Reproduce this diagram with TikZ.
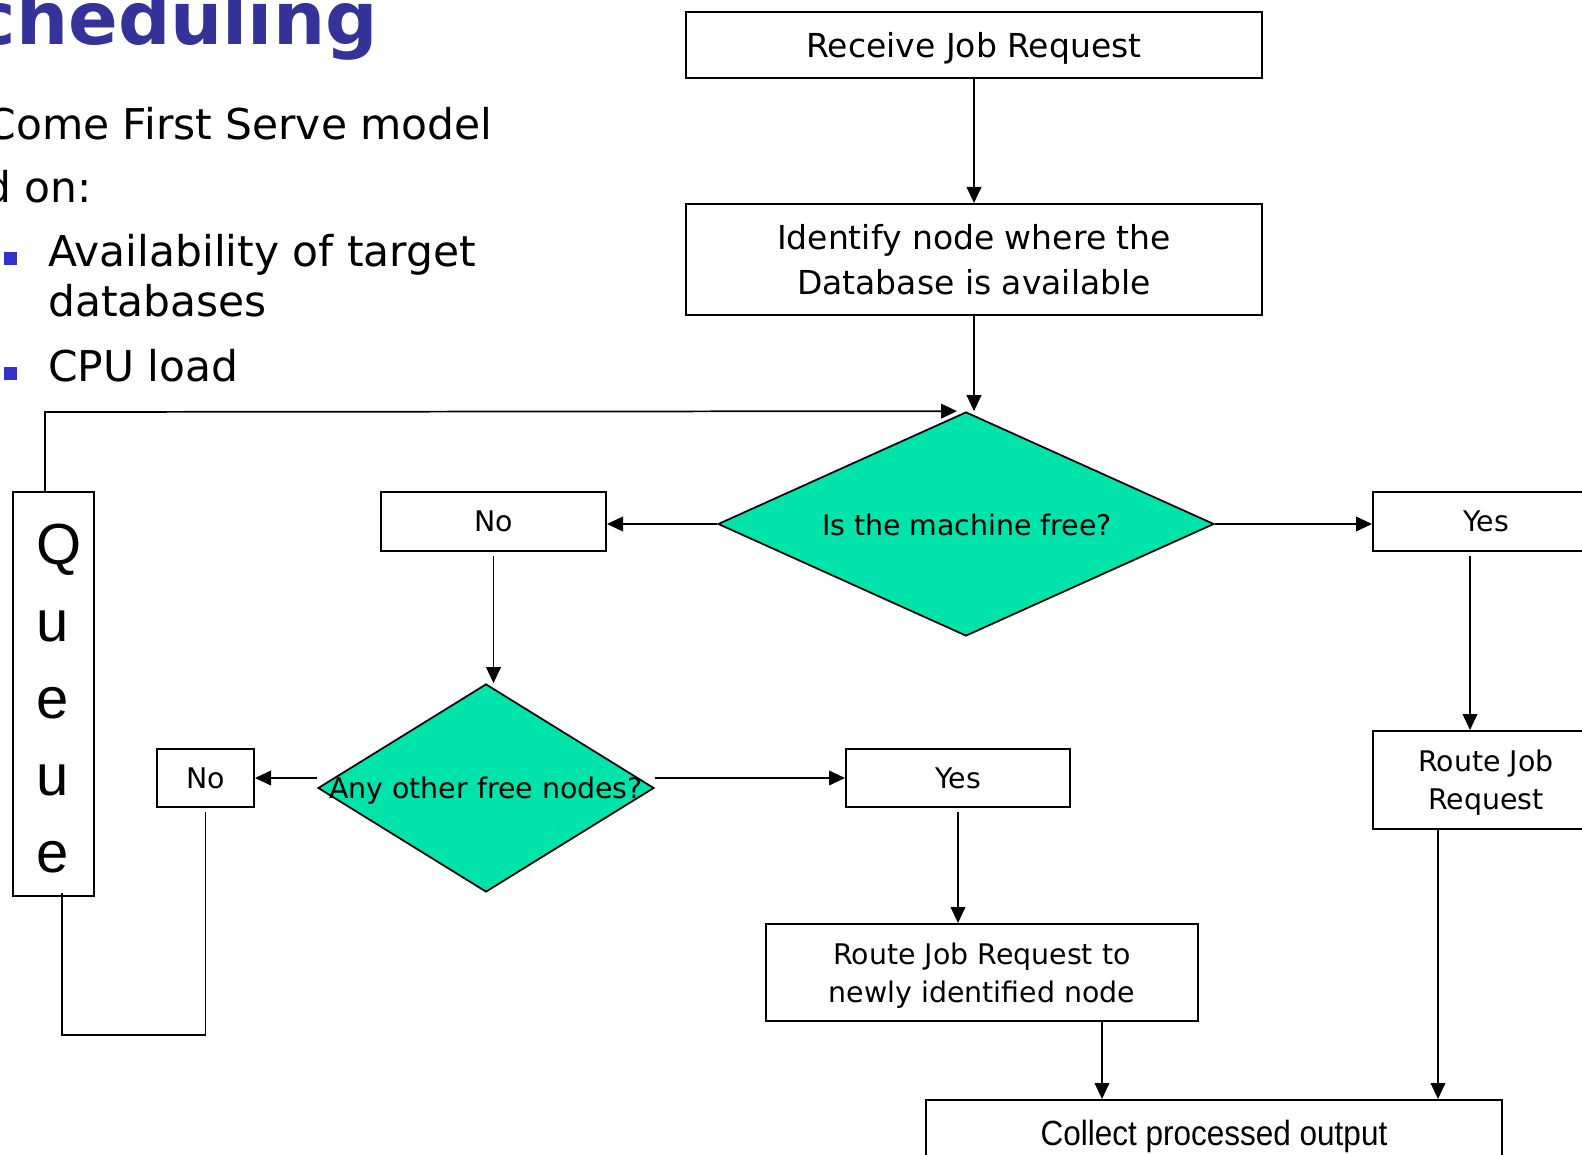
\documentclass[tikz,border=0pt]{standalone}
\usepackage{fontspec}
\setmainfont{DejaVu Sans}
\newfontfamily\queuefont{Liberation Sans}
\newfontfamily\narrowfont{Liberation Sans}[FakeStretch=0.9]
\usetikzlibrary{arrows.meta,shapes.geometric}
\definecolor{decgreen}{RGB}{0,227,170}
\definecolor{titleblue}{RGB}{51,51,153}
\definecolor{bulletblue}{RGB}{51,51,204}

\begin{document}
\begin{tikzpicture}[x=0.75pt,y=-0.75pt,
  box/.style={draw, line width=1.5pt, inner sep=0pt, align=center, text depth=0pt,
    font=\fontsize{21.3pt}{28.5pt}\selectfont},
  bigbox/.style={box, font=\fontsize{24.75pt}{33.75pt}\selectfont},
  decision/.style={diamond, draw, fill=decgreen, line width=1.3pt, inner sep=0pt},
  dectext/.style={font=\fontsize{21.3pt}{26pt}\selectfont, inner sep=0pt, text depth=0pt},
  arr/.style={line width=1.3pt, -{Triangle[length=12pt,width=11pt]}},
  link/.style={line width=1.3pt},
  body/.style={font=\fontsize{31.8pt}{38pt}\selectfont, inner sep=0pt},
]
\useasboundingbox (0,0) rectangle (1582,1155);
\clip (0,0) rectangle (1582,1155);

% slide heading and bullet text
\node[anchor=base east, inner sep=0pt, text=titleblue,
  font=\bfseries\fontsize{55pt}{60pt}\selectfont] (title) at (378,45) {cheduling};
\node[body, anchor=base east] (line1) at (493,140) {Come First Serve model};
\node[body, anchor=base east] (line2) at (92,203) {d on:};
\fill[bulletblue] (4,252) rectangle (17,265);
\node[body, anchor=base west] (b1) at (48,267) {Availability of target};
\node[body, anchor=base west] (b1b) at (48,317) {databases};
\fill[bulletblue] (4,367) rectangle (17,380);
\node[body, anchor=base west] (b2) at (48,382) {CPU load};

% flowchart boxes
\node[bigbox, minimum width=432pt, minimum height=49.5pt] (recv) at (974,45) {Receive Job Request};
\node[bigbox, minimum width=432pt, minimum height=83.25pt] (ident) at (974,259.5)
  {Identify node where the\\Database is available};
\node[decision, minimum width=372pt, minimum height=168pt] (free) at (966,524) {};
\node[dectext] (freetext) at (967,525) {Is the machine free?};
\node[box, minimum width=168.75pt, minimum height=44.25pt] (no1) at (493.5,521.5) {No};
\node[box, minimum width=169.5pt, minimum height=44.25pt] (yes1) at (1486,521.5) {Yes};
\node[box, minimum width=169.5pt, minimum height=73.5pt] (route1) at (1486,780) {Route Job\\Request};
\node[decision, minimum width=252pt, minimum height=156pt] (other) at (486,788) {};
\node[dectext] (othertext) at (486,788) {Any other free nodes?};
\node[box, minimum width=72.75pt, minimum height=43.5pt] (no2) at (205.5,778) {No};
\node[box, minimum width=168pt, minimum height=43.5pt] (yes2) at (958,778) {Yes};
\node[box, minimum width=324pt, minimum height=72.75pt] (route2) at (982,972.5)
  {Route Job Request to\\newly identified node};
\node[box, minimum width=432pt, minimum height=48.75pt,
  font=\narrowfont\fontsize{26.25pt}{30pt}\selectfont] (collect) at (1214,1132.5) {Collect processed output};
\node[box, minimum width=60.75pt, minimum height=303pt] (queue) at (53.5,694) {};
\node[anchor=west, align=left, inner sep=0pt,
  font=\queuefont\fontsize{43.5pt}{57.75pt}\selectfont] (qletters) at (36,699) {Q\\u\\e\\u\\e};

% connectors
\coordinate (qtop) at (45,412);
\coordinate (qret) at (62,1035);
\draw[arr] (recv.south) -- (ident.north);
\draw[arr] (ident.south) -- (ident.south |- free.north);
\draw[arr] (queue.north -| qtop) -- (qtop) -- ([xshift=-6.75pt]free.north);
\draw[arr] (free.west) -- (free.west -| no1.east);
\draw[arr] (free.east) -- (free.east -| yes1.west);
\draw[arr] ([yshift=-3pt]no1.south) -- (no1.south |- other.north);
\draw[arr] (other.west |- no2.east) -- (no2.east);
\draw[arr] (other.east |- yes2.west) -- (yes2.west);
\draw[arr] ([yshift=-3pt]yes2.south) -- (yes2.south |- route2.north);
\draw[arr] ([xshift=-12pt,yshift=-3pt]yes1.south) -- ([xshift=-12pt]route1.north);
\draw[arr] ([xshift=-36pt,yshift=1pt]route1.south) -- ([xshift=-36pt]route1.south |- collect.north);
\draw[arr] ([xshift=90pt]route2.south) -- ([xshift=90pt]route2.south |- collect.north);
\draw[link] ([yshift=-3pt]no2.south) |- (qret) -- ([yshift=3pt]qret |- queue.south);
\end{tikzpicture}
\end{document}
